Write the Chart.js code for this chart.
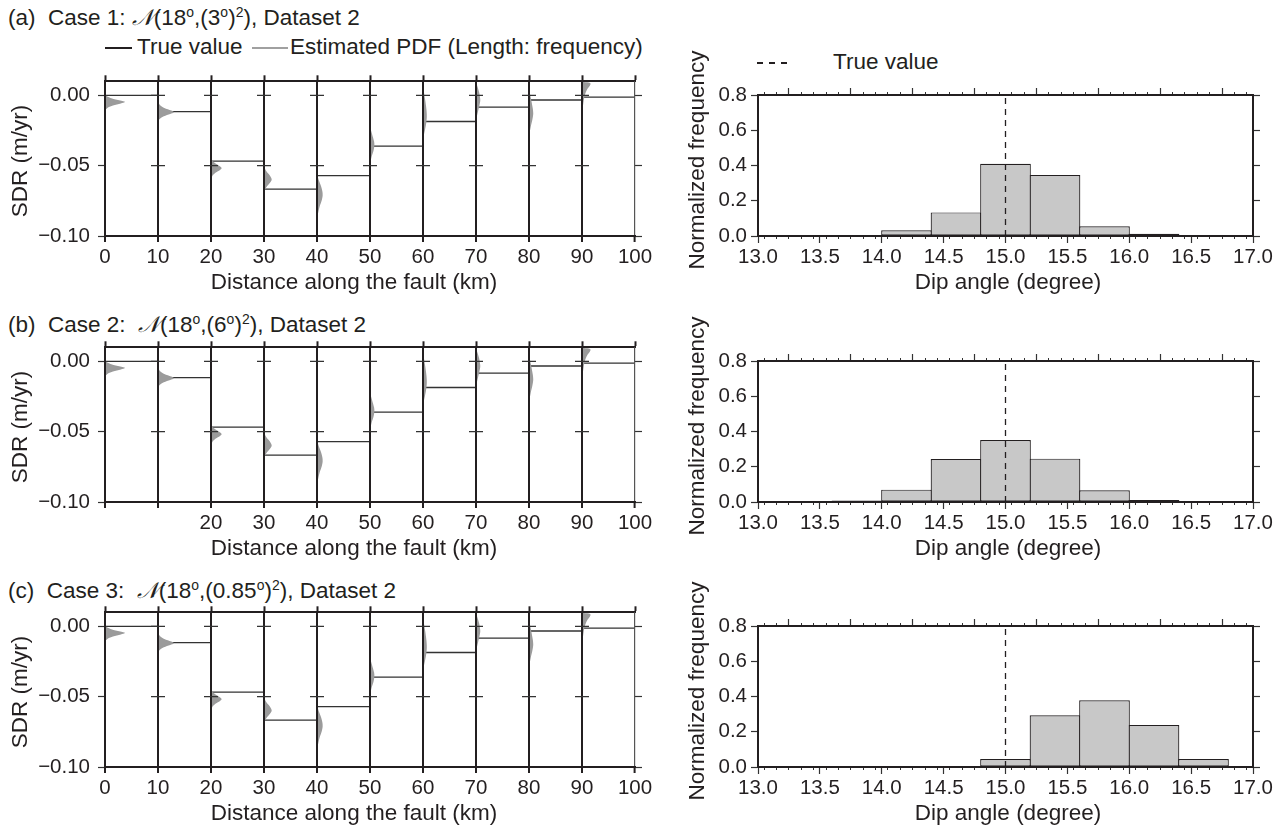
<!DOCTYPE html>
<html>
<head>
<meta charset="utf-8">
<script src="https://cdn.jsdelivr.net/npm/chart.js@4.4.1/dist/chart.umd.min.js"></script>
<style>
  body { margin: 0; width: 1288px; height: 831px; background: #fff; position: relative; overflow: hidden;
         font-family: "Liberation Sans", Arial, sans-serif; color: #231f20; }
  canvas { position: absolute; }
  .t { position: absolute; white-space: nowrap; font-size: 22.5px; line-height: 22px; }
  .ttl { transform: translate(-50%, 0); }
  .rot { transform: translate(-50%, -50%) rotate(-90deg); }
  sup { font-size: 0.62em; vertical-align: 0.55em; line-height: 0; }
  .cal { font-family: "DejaVu Serif", "DejaVu Sans", serif; font-style: italic; }
  .ln { position: absolute; height: 2px; }
</style>
</head>
<body>

<div class="t" style="left:8px;top:6px">(a)&nbsp; Case 1: <span class="cal">𝒩</span>(18<sup>o</sup>,(3<sup>o</sup>)<sup>2</sup>), Dataset 2</div>
<div class="ln" style="left:105px;top:47px;width:27px;background:#231f20"></div>
<div class="t" style="left:137px;top:36px">True value</div>
<div class="ln" style="left:252px;top:47px;width:36px;background:#a0a0a0"></div>
<div class="t" style="left:290px;top:36px">Estimated PDF (Length: frequency)</div>
<div class="ln" style="left:757px;top:62px;width:34px;height:1.5px;background:repeating-linear-gradient(to right,#231f20 0 6px,transparent 6px 12px)"></div>
<div class="t" style="left:833px;top:51px">True value</div>

<div class="t" style="left:8px;top:313px">(b)&nbsp; Case 2:&nbsp; <span class="cal">𝒩</span>(18<sup>o</sup>,(6<sup>o</sup>)<sup>2</sup>), Dataset 2</div>
<div class="t" style="left:8px;top:579px">(c)&nbsp; Case 3:&nbsp; <span class="cal">𝒩</span>(18<sup>o</sup>,(0.85<sup>o</sup>)<sup>2</sup>), Dataset 2</div>

<canvas id="faultA" width="660" height="240" style="left:0;top:61px"></canvas>
<canvas id="faultB" width="660" height="240" style="left:0;top:327px"></canvas>
<canvas id="faultC" width="660" height="240" style="left:0;top:592px"></canvas>
<canvas id="histA" width="628" height="231" style="left:660px;top:70px"></canvas>
<canvas id="histB" width="628" height="231" style="left:660px;top:336px"></canvas>
<canvas id="histC" width="628" height="231" style="left:660px;top:601px"></canvas>

<div class="t rot" style="left:20px;top:161px">SDR (m/yr)</div>
<div class="t rot" style="left:20px;top:427px">SDR (m/yr)</div>
<div class="t rot" style="left:20px;top:692px">SDR (m/yr)</div>
<div class="t rot" style="left:697px;top:160px">Normalized frequency</div>
<div class="t rot" style="left:697px;top:426px">Normalized frequency</div>
<div class="t rot" style="left:697px;top:691px">Normalized frequency</div>
<div class="t ttl" style="left:354px;top:271px">Distance along the fault (km)</div>
<div class="t ttl" style="left:354px;top:537px">Distance along the fault (km)</div>
<div class="t ttl" style="left:354px;top:802px">Distance along the fault (km)</div>
<div class="t ttl" style="left:1008px;top:271px">Dip angle (degree)</div>
<div class="t ttl" style="left:1008px;top:537px">Dip angle (degree)</div>
<div class="t ttl" style="left:1008px;top:802px">Dip angle (degree)</div>

<script>
// segments along the fault (km)
const segStart = [0, 10, 20, 30, 40, 50, 60, 70, 80, 90];
const segWidth = 10;
// true SDR of each segment (m/yr)
const trueSdr = [0.0000, -0.0116, -0.0467, -0.0667, -0.0571, -0.0361, -0.0186, -0.0083, -0.0033, -0.0012];

// estimated PDF of each segment: SDR samples and length (km, = frequency)
const pdfSdr = [
    [0.0005, -0.0010, -0.0025, -0.0040, -0.0048, -0.0058, -0.0072, -0.0088, -0.0105],
    [-0.0045, -0.0070, -0.0090, -0.0108, -0.0120, -0.0132, -0.0148, -0.0165, -0.0185],
    [-0.0445, -0.0470, -0.0490, -0.0508, -0.0518, -0.0530, -0.0548, -0.0570, -0.0600],
    [-0.0495, -0.0530, -0.0560, -0.0585, -0.0600, -0.0618, -0.0645, -0.0670, -0.0700],
    [-0.0560, -0.0600, -0.0640, -0.0680, -0.0710, -0.0745, -0.0790, -0.0850, -0.0940],
    [-0.0210, -0.0250, -0.0290, -0.0330, -0.0360, -0.0395, -0.0430, -0.0470, -0.0510],
    [0.0080, 0.0030, -0.0030, -0.0100, -0.0150, -0.0200, -0.0250, -0.0290, -0.0320],
    [0.0095, 0.0060, 0.0020, -0.0020, -0.0040, -0.0080, -0.0120, -0.0160, -0.0210],
    [0.0060, 0.0020, -0.0030, -0.0090, -0.0130, -0.0170, -0.0220, -0.0270, -0.0330],
    [0.0095, 0.0092, 0.0085, 0.0070, 0.0050, 0.0020, -0.0020, -0.0070, -0.0130]
];
const pdfLen = [
    [0, 0.5, 1.6, 3.3, 3.8, 3.0, 1.5, 0.5, 0],
    [0, 0.4, 1.2, 2.5, 3.0, 2.3, 1.1, 0.4, 0],
    [0, 0.4, 1.1, 1.8, 2.0, 1.7, 0.9, 0.3, 0],
    [0, 0.3, 0.9, 1.35, 1.45, 1.2, 0.6, 0.2, 0],
    [0, 0.3, 0.7, 1.0, 1.07, 0.9, 0.5, 0.15, 0],
    [0, 0.2, 0.5, 0.78, 0.82, 0.65, 0.35, 0.12, 0],
    [0, 0.15, 0.4, 0.65, 0.72, 0.6, 0.35, 0.12, 0],
    [0, 0.3, 0.6, 0.78, 0.8, 0.6, 0.35, 0.12, 0],
    [0, 0.15, 0.4, 0.7, 0.8, 0.65, 0.35, 0.12, 0],
    [0, 1.3, 1.6, 1.5, 1.1, 0.7, 0.4, 0.2, 0]
];

const distTicks = [0, 10, 20, 30, 40, 50, 60, 70, 80, 90, 100];
const distLabels = ['0', '10', '20', '30', '40', '50', '60', '70', '80', '90', '100'];
const distLabelsB = ['', '', '20', '30', '40', '50', '60', '70', '80', '90', '100'];
const crossKm = [10, 20, 30, 40, 50, 60, 70, 80, 90];
const sdrTicks = [0, -0.05, -0.10];
const sdrLabels = ['0.00', '\u22120.05', '\u22120.10'];
const crossSdr = [0, -0.05];

// histograms of the estimated dip angle
const binStart = [13.2, 13.6, 14.0, 14.4, 14.8, 15.2, 15.6, 16.0, 16.4];
const binWidth = 0.4;
const freqA = [0, 0.004, 0.032, 0.134, 0.410, 0.346, 0.055, 0.013, 0.002];
const freqB = [0.001, 0.008, 0.070, 0.244, 0.352, 0.246, 0.066, 0.011, 0.001];
const freqC = [0, 0, 0, 0, 0.045, 0.294, 0.379, 0.238, 0.045];
const trueDip = 15.0;
const dipTicks = [13.0, 13.5, 14.0, 14.5, 15.0, 15.5, 16.0, 16.5, 17.0];
const freqTicks = [0, 0.2, 0.4, 0.6, 0.8];

const ink = '#231f20';
const tickFont = { family: '"Liberation Sans", Arial, sans-serif', size: 20.5 };

// petites croix sur chaque ligne verticale
const crossTicks = {
    id: 'crossTicks',
    afterDraw(chart) {
        const { ctx } = chart;
        const x = chart.scales.x, y = chart.scales.y;
        ctx.save();
        ctx.strokeStyle = '#333';
        ctx.lineWidth = 1.2;
        ctx.beginPath();
        crossKm.forEach(km => {
            const px = x.getPixelForValue(km);
            crossSdr.forEach(v => {
                const py = y.getPixelForValue(v);
                ctx.moveTo(px - 7, py);
                ctx.lineTo(px + 7, py);
            });
        });
        ctx.stroke();
        ctx.restore();
    }
};

function makeFault(id, labels) {
    const pdfSets = segStart.map((x0, i) => ({
        data: pdfSdr[i].map((v, k) => ({ x: x0 + pdfLen[i][k], y: v })),
        fill: 'shape',
        backgroundColor: '#9b9b9b',
        borderColor: 'rgba(0,0,0,0)',
        borderWidth: 0,
        pointRadius: 0,
        tension: 0.3
    }));
    const truePts = [];
    segStart.forEach((x0, i) => {
        truePts.push({ x: x0, y: trueSdr[i] }, { x: x0 + segWidth, y: trueSdr[i] }, { x: x0 + segWidth, y: null });
    });
    const lastIdx = distTicks.length - 1;

    new Chart(document.getElementById(id), {
        type: 'line',
        data: {
            datasets: pdfSets.concat([{
                data: truePts,
                borderColor: '#333',
                borderWidth: 1.3,
                pointRadius: 0,
                fill: false
            }])
        },
        options: {
            responsive: false,
            animation: false,
            events: [],
            layout: { padding: 0 },
            plugins: { legend: { display: false }, tooltip: { enabled: false } },
            scales: {
                x: {
                    type: 'linear', position: 'bottom', min: 0, max: 100,
                    afterBuildTicks: s => { s.ticks = distTicks.map(v => ({ value: v })); },
                    afterFit: s => { s.height = 65; },
                    ticks: { z: 1, callback: (v, i) => labels[i], font: tickFont, color: ink, padding: 3, maxRotation: 0, autoSkip: false },
                    grid: {
                        z: 1,
                        color: c => c.index === lastIdx ? '#555' : ink,
                        lineWidth: c => c.index === lastIdx ? 1.2 : 2,
                        tickColor: ink, tickLength: 6, tickWidth: 2
                    },
                    border: { z: 1, display: true, width: 2, color: ink }
                },
                xTop: {
                    axis: 'x', type: 'linear', position: 'top', min: 0, max: 100,
                    afterBuildTicks: s => { s.ticks = distTicks.map(v => ({ value: v })); },
                    afterFit: s => { s.height = 20; },
                    ticks: { display: false },
                    grid: { drawOnChartArea: false, tickColor: ink, tickLength: 6, tickWidth: 2 },
                    border: { display: true, width: 2, color: ink }
                },
                y: {
                    type: 'linear', position: 'left', min: -0.10, max: 0.01,
                    afterBuildTicks: s => { s.ticks = sdrTicks.map(v => ({ value: v })); },
                    afterFit: s => { s.width = 105; },
                    ticks: { callback: (v, i) => sdrLabels[i], font: tickFont, color: ink, padding: 8 },
                    grid: { drawOnChartArea: false, tickColor: '#333', tickLength: 7, tickWidth: 1.2 },
                    border: { display: false }
                },
                yRight: {
                    axis: 'y', type: 'linear', position: 'right', min: -0.10, max: 0.01,
                    afterBuildTicks: s => { s.ticks = sdrTicks.map(v => ({ value: v })); },
                    afterFit: s => { s.width = 25; },
                    ticks: { display: false },
                    grid: { drawOnChartArea: false, tickColor: '#333', tickLength: 7, tickWidth: 1.2 },
                    border: { display: false }
                }
            }
        },
        plugins: [crossTicks]
    });
}

function makeHist(id, freq) {
    new Chart(document.getElementById(id), {
        type: 'bar',
        data: {
            datasets: [{
                type: 'line',
                data: [{ x: trueDip, y: 0 }, { x: trueDip, y: 0.8 }],
                borderColor: ink,
                borderWidth: 1.3,
                borderDash: [6, 5],
                pointRadius: 0,
                order: 0
            }, {
                type: 'bar',
                data: binStart.map((b, i) => ({ x: b + binWidth / 2, y: freq[i] > 0 ? freq[i] : null })),
                backgroundColor: '#c8c8c8',
                borderColor: ink,
                borderWidth: 1.2,
                borderSkipped: false,
                barPercentage: 1.024,
                categoryPercentage: 1,
                order: 1
            }]
        },
        options: {
            responsive: false,
            animation: false,
            events: [],
            layout: { padding: 0 },
            plugins: { legend: { display: false }, tooltip: { enabled: false } },
            scales: {
                x: {
                    type: 'linear', position: 'bottom', weight: 1, min: 13, max: 17, offset: false,
                    afterBuildTicks: s => { s.ticks = dipTicks.map(v => ({ value: v })); },
                    afterFit: s => { s.height = 65; },
                    ticks: { callback: (v, i) => dipTicks[i].toFixed(1), font: tickFont, color: ink, padding: 2, maxRotation: 0, autoSkip: false },
                    grid: { offset: false, drawOnChartArea: false, tickColor: '#333', tickLength: 7, tickWidth: 1.2 },
                    border: { display: true, width: 2, color: ink }
                },
                xMinor: {
                    axis: 'x', type: 'linear', position: 'bottom', weight: 0, min: 13, max: 17, offset: false,
                    afterFit: s => { s.height = 0; },
                    ticks: { display: false, stepSize: 0.1, maxTicksLimit: 100 },
                    grid: { drawOnChartArea: false, tickColor: '#333', tickLength: 3, tickWidth: 1 },
                    border: { display: false }
                },
                xTop: {
                    axis: 'x', type: 'linear', position: 'top', weight: 1, min: 13, max: 17, offset: false,
                    afterBuildTicks: s => { s.ticks = dipTicks.map(v => ({ value: v })); },
                    afterFit: s => { s.height = 25; },
                    ticks: { display: false },
                    grid: { drawOnChartArea: false, tickColor: '#333', tickLength: 7, tickWidth: 1.2 },
                    border: { display: true, width: 2, color: ink }
                },
                xTopMinor: {
                    axis: 'x', type: 'linear', position: 'top', weight: 0, min: 13, max: 17, offset: false,
                    afterFit: s => { s.height = 0; },
                    ticks: { display: false, stepSize: 0.1, maxTicksLimit: 100 },
                    grid: { drawOnChartArea: false, tickColor: '#333', tickLength: 3, tickWidth: 1 },
                    border: { display: false }
                },
                y: {
                    type: 'linear', position: 'left', min: 0, max: 0.8,
                    afterBuildTicks: s => { s.ticks = freqTicks.map(v => ({ value: v })); },
                    afterFit: s => { s.width = 98; },
                    ticks: { callback: (v, i) => freqTicks[i].toFixed(1), font: tickFont, color: ink, padding: 4 },
                    grid: { drawOnChartArea: false, tickColor: '#333', tickLength: 7, tickWidth: 1.2 },
                    border: { display: true, width: 2, color: ink }
                },
                yRight: {
                    axis: 'y', type: 'linear', position: 'right', min: 0, max: 0.8,
                    afterBuildTicks: s => { s.ticks = freqTicks.map(v => ({ value: v })); },
                    afterFit: s => { s.width = 35; },
                    ticks: { display: false },
                    grid: { drawOnChartArea: false, tickColor: '#333', tickLength: 7, tickWidth: 1.2 },
                    border: { display: true, width: 2, color: ink }
                }
            }
        }
    });
}

makeFault('faultA', distLabels);
makeFault('faultB', distLabelsB);
makeFault('faultC', distLabels);
makeHist('histA', freqA);
makeHist('histB', freqB);
makeHist('histC', freqC);
</script>
</body>
</html>
